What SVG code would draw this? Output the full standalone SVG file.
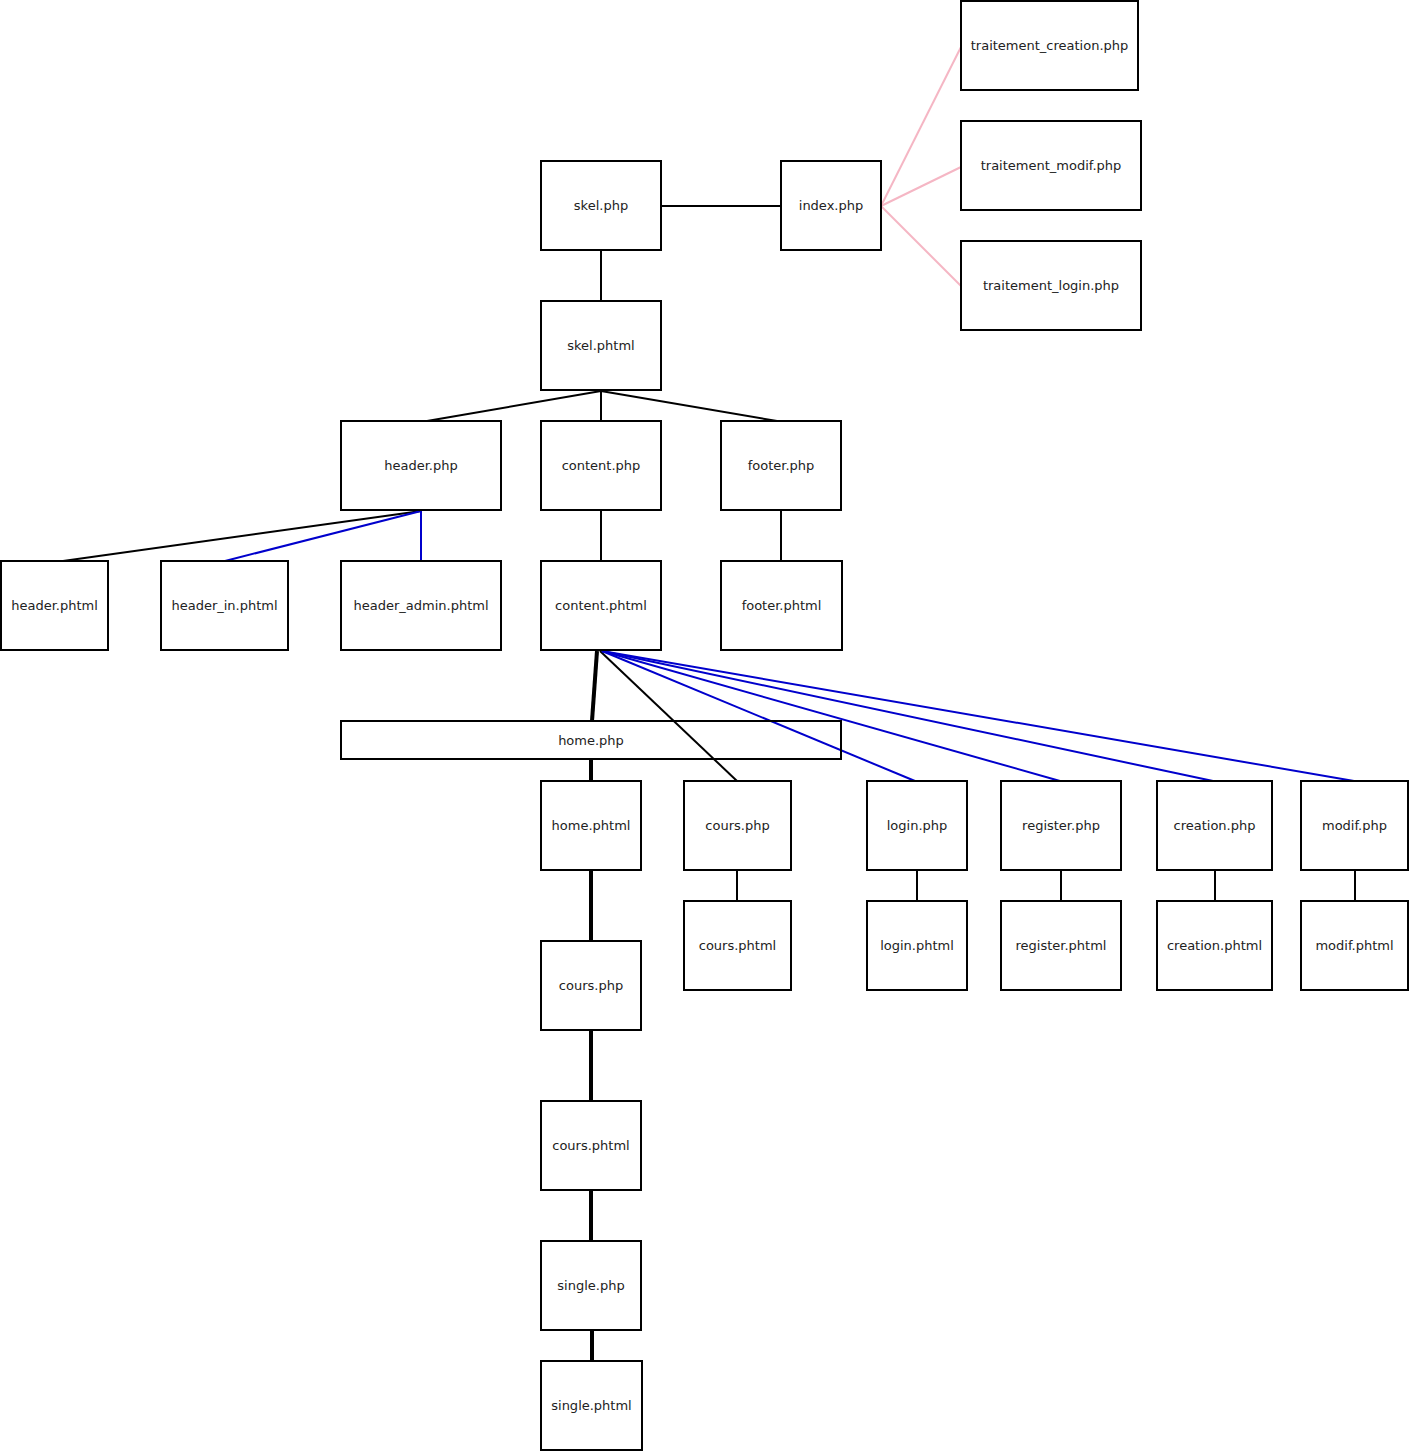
<svg xmlns="http://www.w3.org/2000/svg" width="1411" height="1452" viewBox="0 0 1411 1452">
<style>
.n rect{fill:#fff;stroke:#000;stroke-width:2}
.n text{font-family:"DejaVu Sans",sans-serif;font-size:13px;fill:#222;text-anchor:middle;dominant-baseline:central}
#home_php rect{fill:none}
.k{stroke:#000;stroke-width:2;fill:none}
.b{stroke:#0000cc;stroke-width:2;fill:none}
.t{stroke:#000;stroke-width:4;fill:none}
.p{stroke:#f5b6c4;stroke-width:2;fill:none}
</style>
<rect width="1411" height="1452" fill="#fff"/>
<g id="connectors">
<line class="k" x1="661" y1="206" x2="781" y2="206"/>
<line class="k" x1="601" y1="250" x2="601" y2="301"/>
<line class="k" x1="601" y1="391" x2="427" y2="421"/>
<line class="k" x1="601" y1="391" x2="601" y2="421"/>
<line class="k" x1="601" y1="391" x2="777" y2="421"/>
<line class="k" x1="421" y1="511" x2="63" y2="561"/>
<line class="b" x1="421" y1="511" x2="225" y2="561"/>
<line class="b" x1="421" y1="511" x2="421" y2="561"/>
<line class="k" x1="601" y1="510" x2="601" y2="561"/>
<line class="k" x1="781" y1="510" x2="781" y2="561"/>
<line class="t" x1="597" y1="651" x2="592" y2="721"/>
<line class="k" x1="600" y1="651" x2="737" y2="781"/>
<line class="b" x1="602" y1="651" x2="915" y2="781"/>
<line class="b" x1="602" y1="651" x2="1060" y2="781"/>
<line class="b" x1="602" y1="651" x2="1213" y2="781"/>
<line class="b" x1="602" y1="651" x2="1354" y2="781"/>
<line class="t" x1="591" y1="759" x2="591" y2="781"/>
<line class="t" x1="591" y1="870" x2="591" y2="941"/>
<line class="t" x1="591" y1="1030" x2="591" y2="1101"/>
<line class="t" x1="591" y1="1190" x2="591" y2="1241"/>
<line class="t" x1="592" y1="1330" x2="592" y2="1361"/>
<line class="k" x1="737" y1="870" x2="737" y2="901"/>
<line class="k" x1="917" y1="870" x2="917" y2="901"/>
<line class="k" x1="1061" y1="870" x2="1061" y2="901"/>
<line class="k" x1="1215" y1="870" x2="1215" y2="901"/>
<line class="k" x1="1355" y1="870" x2="1355" y2="901"/>
<line class="p" x1="881" y1="206" x2="961" y2="47"/>
<line class="p" x1="881" y1="206" x2="961" y2="167"/>
<line class="p" x1="881" y1="206" x2="961" y2="286"/>
</g>
<g id="traitement_creation" class="n"><rect x="961" y="1" width="177" height="89"/><text x="1049.5" y="45.5">traitement_creation.php</text></g>
<g id="traitement_modif" class="n"><rect x="961" y="121" width="180" height="89"/><text x="1051" y="165.5">traitement_modif.php</text></g>
<g id="traitement_login" class="n"><rect x="961" y="241" width="180" height="89"/><text x="1051" y="285.5">traitement_login.php</text></g>
<g id="index" class="n"><rect x="781" y="161" width="100" height="89"/><text x="831" y="205.5">index.php</text></g>
<g id="skel_php" class="n"><rect x="541" y="161" width="120" height="89"/><text x="601" y="205.5">skel.php</text></g>
<g id="skel_phtml" class="n"><rect x="541" y="301" width="120" height="89"/><text x="601" y="345.5">skel.phtml</text></g>
<g id="header_php" class="n"><rect x="341" y="421" width="160" height="89"/><text x="421" y="465.5">header.php</text></g>
<g id="content_php" class="n"><rect x="541" y="421" width="120" height="89"/><text x="601" y="465.5">content.php</text></g>
<g id="footer_php" class="n"><rect x="721" y="421" width="120" height="89"/><text x="781" y="465.5">footer.php</text></g>
<g id="header_phtml" class="n"><rect x="1" y="561" width="107" height="89"/><text x="54.5" y="605.5">header.phtml</text></g>
<g id="header_in_phtml" class="n"><rect x="161" y="561" width="127" height="89"/><text x="224.5" y="605.5">header_in.phtml</text></g>
<g id="header_admin_phtml" class="n"><rect x="341" y="561" width="160" height="89"/><text x="421" y="605.5">header_admin.phtml</text></g>
<g id="content_phtml" class="n"><rect x="541" y="561" width="120" height="89"/><text x="601" y="605.5">content.phtml</text></g>
<g id="footer_phtml" class="n"><rect x="721" y="561" width="121" height="89"/><text x="781.5" y="605.5">footer.phtml</text></g>
<g id="home_php" class="n"><rect x="341" y="721" width="500" height="38"/><text x="591" y="740">home.php</text></g>
<g id="home_phtml" class="n"><rect x="541" y="781" width="100" height="89"/><text x="591" y="825.5">home.phtml</text></g>
<g id="cours_php_r" class="n"><rect x="684" y="781" width="107" height="89"/><text x="737.5" y="825.5">cours.php</text></g>
<g id="login_php" class="n"><rect x="867" y="781" width="100" height="89"/><text x="917" y="825.5">login.php</text></g>
<g id="register_php" class="n"><rect x="1001" y="781" width="120" height="89"/><text x="1061" y="825.5">register.php</text></g>
<g id="creation_php" class="n"><rect x="1157" y="781" width="115" height="89"/><text x="1214.5" y="825.5">creation.php</text></g>
<g id="modif_php" class="n"><rect x="1301" y="781" width="107" height="89"/><text x="1354.5" y="825.5">modif.php</text></g>
<g id="cours_phtml_r" class="n"><rect x="684" y="901" width="107" height="89"/><text x="737.5" y="945.5">cours.phtml</text></g>
<g id="login_phtml" class="n"><rect x="867" y="901" width="100" height="89"/><text x="917" y="945.5">login.phtml</text></g>
<g id="register_phtml" class="n"><rect x="1001" y="901" width="120" height="89"/><text x="1061" y="945.5">register.phtml</text></g>
<g id="creation_phtml" class="n"><rect x="1157" y="901" width="115" height="89"/><text x="1214.5" y="945.5">creation.phtml</text></g>
<g id="modif_phtml" class="n"><rect x="1301" y="901" width="107" height="89"/><text x="1354.5" y="945.5">modif.phtml</text></g>
<g id="cours_php_l" class="n"><rect x="541" y="941" width="100" height="89"/><text x="591" y="985.5">cours.php</text></g>
<g id="cours_phtml_l" class="n"><rect x="541" y="1101" width="100" height="89"/><text x="591" y="1145">cours.phtml</text></g>
<g id="single_php" class="n"><rect x="541" y="1241" width="100" height="89"/><text x="591" y="1285.5">single.php</text></g>
<g id="single_phtml" class="n"><rect x="541" y="1361" width="101" height="89"/><text x="591.5" y="1405.5">single.phtml</text></g>
</svg>
